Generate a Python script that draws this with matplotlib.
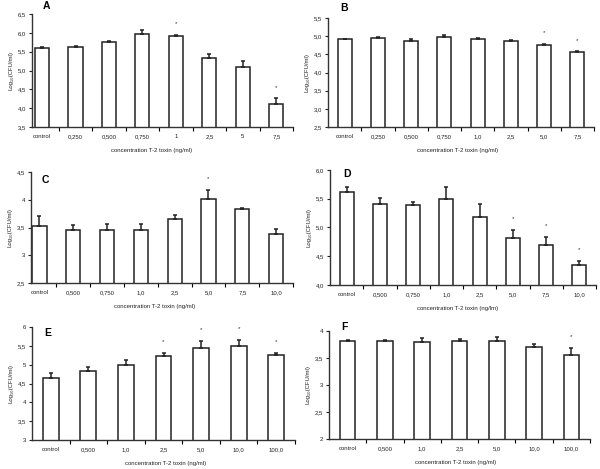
import numpy as np
import matplotlib.pyplot as plt

plt.rcParams['font.family'] = ['Liberation Sans', 'DejaVu Sans']

ylab = 'Log\u2081\u2080(CFU/ml)'

# panel A
cats_a = ['control', '0,250', '0,500', '0,750', '1', '2,5', '5', '7,5']
mean_a = [5.61, 5.63, 5.75, 5.97, 5.91, 5.32, 5.10, 4.10]
err_a = [0.02, 0.02, 0.04, 0.10, 0.03, 0.11, 0.16, 0.16]
sig_a = [0, 0, 0, 0, 1, 0, 0, 1]
yt_a = ['3,5', '4,0', '4,5', '5,0', '5,5', '6,0', '6,5']

# panel B
cats_b = ['control', '0,250', '0,500', '0,750', '1,0', '2,5', '5,0', '7,5']
mean_b = [4.91, 4.96, 4.88, 4.98, 4.92, 4.87, 4.76, 4.56]
err_b = [0.02, 0.01, 0.03, 0.06, 0.02, 0.02, 0.03, 0.02]
sig_b = [0, 0, 0, 0, 0, 0, 1, 1]
yt_b = ['2,5', '3,0', '3,5', '4,0', '4,5', '5,0', '5,5']

# panel C
cats_c = ['control', '0,500', '0,750', '1,0', '2,5', '5,0', '7,5', '10,0']
mean_c = [3.52, 3.45, 3.45, 3.45, 3.65, 4.01, 3.83, 3.38]
err_c = [0.19, 0.09, 0.11, 0.12, 0.07, 0.17, 0.03, 0.09]
sig_c = [0, 0, 0, 0, 0, 1, 0, 0]
yt_c = ['2,5', '3', '3,5', '4', '4,5']

# panel D
cats_d = ['control', '0,500', '0,750', '1,0', '2,5', '5,0', '7,5', '10,0']
mean_d = [5.61, 5.40, 5.39, 5.49, 5.18, 4.81, 4.70, 4.35]
err_d = [0.09, 0.11, 0.06, 0.22, 0.23, 0.15, 0.14, 0.07]
sig_d = [0, 0, 0, 0, 0, 1, 1, 1]
yt_d = ['4,0', '4,5', '5,0', '5,5', '6,0']

# panel E
cats_e = ['control', '0,500', '1,0', '2,5', '5,0', '10,0', '100,0']
mean_e = [4.64, 4.84, 5.00, 5.24, 5.45, 5.50, 5.25]
err_e = [0.15, 0.11, 0.12, 0.08, 0.17, 0.15, 0.07]
sig_e = [0, 0, 0, 1, 1, 1, 1]
yt_e = ['3', '3,5', '4', '4,5', '5', '5,5', '6']

# panel F
cats_f = ['control', '0,500', '1,0', '2,5', '5,0', '10,0', '100,0']
mean_f = [3.82, 3.82, 3.80, 3.82, 3.81, 3.71, 3.56]
err_f = [0.02, 0.02, 0.07, 0.04, 0.07, 0.05, 0.13]
sig_f = [0, 0, 0, 0, 0, 0, 1]
yt_f = ['2', '2,5', '3', '3,5', '4']

W, H = 600, 469
fig = plt.figure(figsize=(6, 4.69), dpi=100)


def panel(box, x0, xlab_x, letter, letter_pos, cats, mean, err, sig, ylo, yhi, yt, xlab):
    l, r, t, b = box
    ax = fig.add_axes([l / W, 1 - b / H, (r - l) / W, (b - t) / H])
    n = len(cats)
    x = np.arange(n) + 0.5
    ax.bar(x, mean, width=0.42, color='white', edgecolor='#222222', linewidth=1.1, zorder=2)
    ax.errorbar(x, mean, yerr=[np.zeros(n), err], fmt='none', ecolor='#222222',
                elinewidth=1.1, capsize=1.6, capthick=1.1, zorder=3)
    rng = yhi - ylo
    for i in range(n):
        if sig[i]:
            ax.text(x[i], mean[i] + err[i] + 0.1 * rng, '*', ha='center', va='center',
                    fontsize=4.5, color='#333333')
    ax.set_xlim(x0, n)
    ax.set_ylim(ylo, yhi)
    ax.set_yticks(np.linspace(ylo, yhi, len(yt)))
    ax.set_yticklabels(yt)
    ax.set_xticks(np.arange(1, n + 1))
    ax.set_xticklabels([])
    ax.set_xticks(x, minor=True)
    ax.set_xticklabels(cats, minor=True)
    ax.tick_params(axis='x', which='major', length=3, width=0.8, direction='out')
    ax.tick_params(axis='x', which='minor', length=0, labelsize=4.3, pad=5, colors='#222222')
    ax.tick_params(axis='y', length=2.5, width=0.8, labelsize=4.3, pad=2, colors='#222222')
    for s in ['top', 'right']:
        ax.spines[s].set_visible(False)
    for s in ['left', 'bottom']:
        ax.spines[s].set_linewidth(1.0)
        ax.spines[s].set_color('#333333')
    ax.set_xlabel(xlab, fontsize=4.3, color='#222222')
    ax.xaxis.set_label_coords((xlab_x - l) / (r - l), -21 / (b - t))
    ax.set_ylabel(ylab, fontsize=4.3, labelpad=3, color='#222222')
    fig.text(letter_pos[0] / W, 1 - letter_pos[1] / H, letter, fontsize=7.5,
             fontweight='bold', ha='center', va='center')
    return ax


xl = 'concentration T-2 toxin (ng/ml)'
panel((32, 293, 14, 127), 0.2, 152, 'A', (46, 6), cats_a, mean_a, err_a, sig_a,
      3.5, 6.5, yt_a, xl)
panel((328, 594, 18, 127), 0, 458, 'B', (344, 8), cats_b, mean_b, err_b, sig_b,
      2.5, 5.5, yt_b, xl)
panel((31, 293, 172, 283), 0.25, 155, 'C', (45, 180), cats_c, mean_c, err_c, sig_c,
      2.5, 4.5, yt_c, xl)
panel((330, 596, 170, 285), 0, 458, 'D', (347, 174), cats_d, mean_d, err_d, sig_d,
      4.0, 6.0, yt_d, 'concentration T-2 toxin (ng/lm)')
panel((32, 295, 327, 440), 0, 166, 'E', (48, 333), cats_e, mean_e, err_e, sig_e,
      3.0, 6.0, yt_e, xl)
panel((329, 590, 331, 439), 0, 456, 'F', (344, 327), cats_f, mean_f, err_f, sig_f,
      2.0, 4.0, yt_f, xl)

fig.savefig('out.png', dpi=100)
